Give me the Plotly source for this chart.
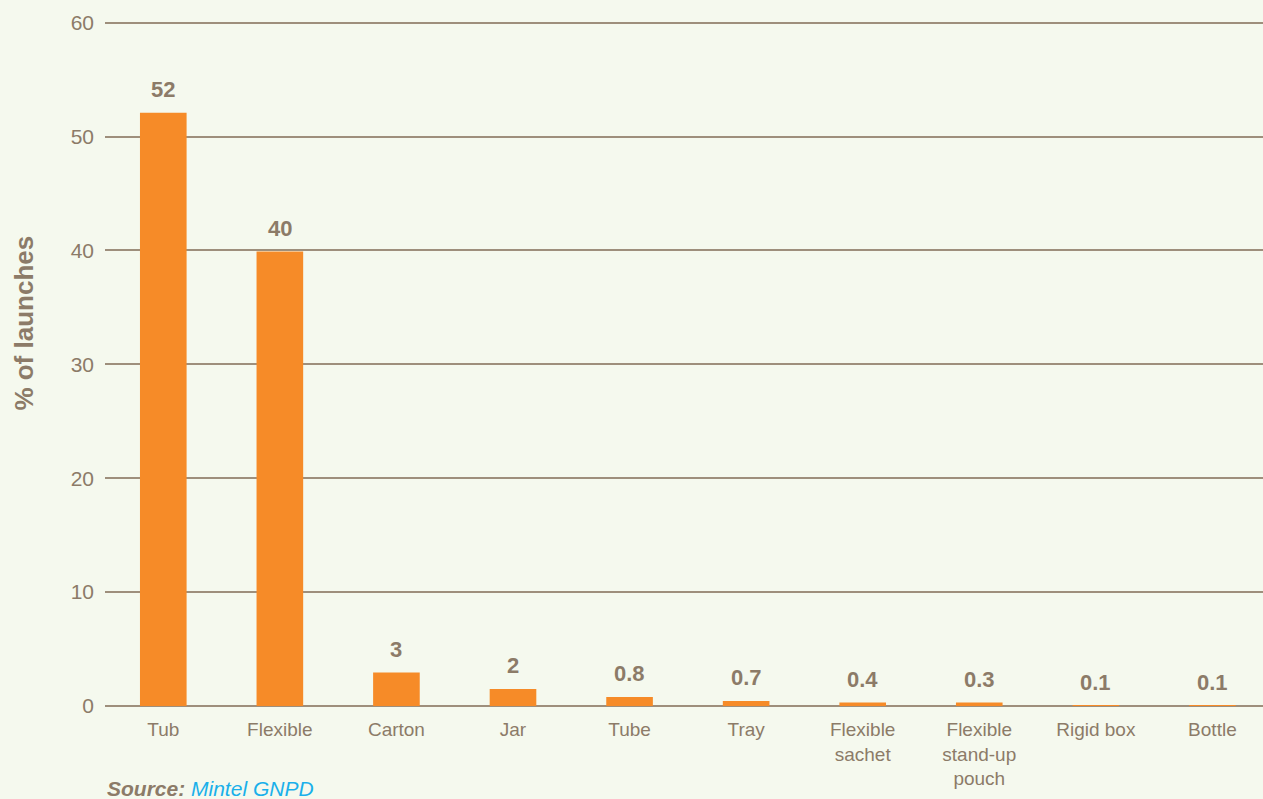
import plotly.graph_objects as go

categories = ["Tub", "Flexible", "Carton", "Jar", "Tube", "Tray",
              "Flexible<br>sachet", "Flexible<br>stand-up<br>pouch", "Rigid box", "Bottle"]
values = [52.1, 39.9, 2.95, 1.5, 0.8, 0.45, 0.3, 0.3, 0.05, 0.05]
labels = ["52", "40", "3", "2", "0.8", "0.7", "0.4", "0.3", "0.1", "0.1"]
y_ticks = [0, 10, 20, 30, 40, 50, 60]

BG = "#f5f9ee"
TXT = "#8c7b68"
BAR = "#f68b28"
GRID = "#9e8f7c"
FONT = "Liberation Sans, Arial, sans-serif"

x_idx = list(range(len(categories)))

fig = go.Figure()
fig.add_trace(go.Bar(x=x_idx, y=values, width=0.4, marker=dict(color=BAR, line=dict(width=0)),
                     hoverinfo="skip"))

for i, (v, lab) in enumerate(zip(values, labels)):
    fig.add_annotation(x=i, y=v, text="<b>%s</b>" % lab, showarrow=False,
                       yanchor="middle", yshift=23,
                       font=dict(family=FONT, size=22, color=TXT))

fig.add_annotation(xref="paper", yref="paper", x=0, xshift=-81, y=0.555,
                   text="<b>% of launches</b>", textangle=-90, showarrow=False,
                   xanchor="center", yanchor="middle",
                   font=dict(family=FONT, size=26, color=TXT))

fig.add_annotation(xref="paper", yref="paper", x=0.0, xshift=0, y=-0.12,
                   xanchor="left", yanchor="middle", showarrow=False,
                   text="<b><i>Source:</i></b> <i><span style='color:#1ab0ea'>Mintel GNPD</span></i>",
                   font=dict(family=FONT, size=21, color=TXT))

fig.update_layout(
    width=1263, height=799,
    margin=dict(l=105, r=0, t=17, b=93),
    paper_bgcolor=BG, plot_bgcolor=BG,
    showlegend=False,
    font=dict(family=FONT, color=TXT),
    xaxis=dict(range=[-0.5, 9.434], tickmode="array", tickvals=x_idx, ticktext=categories,
               showgrid=False, zeroline=False, showline=False,
               tickfont=dict(family=FONT, size=19, color=TXT), ticks="",
               ticklabelstandoff=10, fixedrange=True),
    yaxis=dict(range=[0, 60.5], tickmode="array", tickvals=y_ticks,
               showgrid=True, gridcolor=GRID, gridwidth=1.5,
               zeroline=True, zerolinecolor=GRID, zerolinewidth=2,
               showline=False, ticks="",
               tickfont=dict(family=FONT, size=21, color=TXT),
               ticklabelstandoff=10, fixedrange=True),
)

fig.write_html("out.html", config={"displayModeBar": False})
with open("out.html", "r", encoding="utf-8") as f:
    html = f.read()
html = html.replace("<head>", "<head><style>html,body{margin:0;padding:0;background:%s;overflow:hidden;}</style>" % BG, 1)
with open("out.html", "w", encoding="utf-8") as f:
    f.write(html)
